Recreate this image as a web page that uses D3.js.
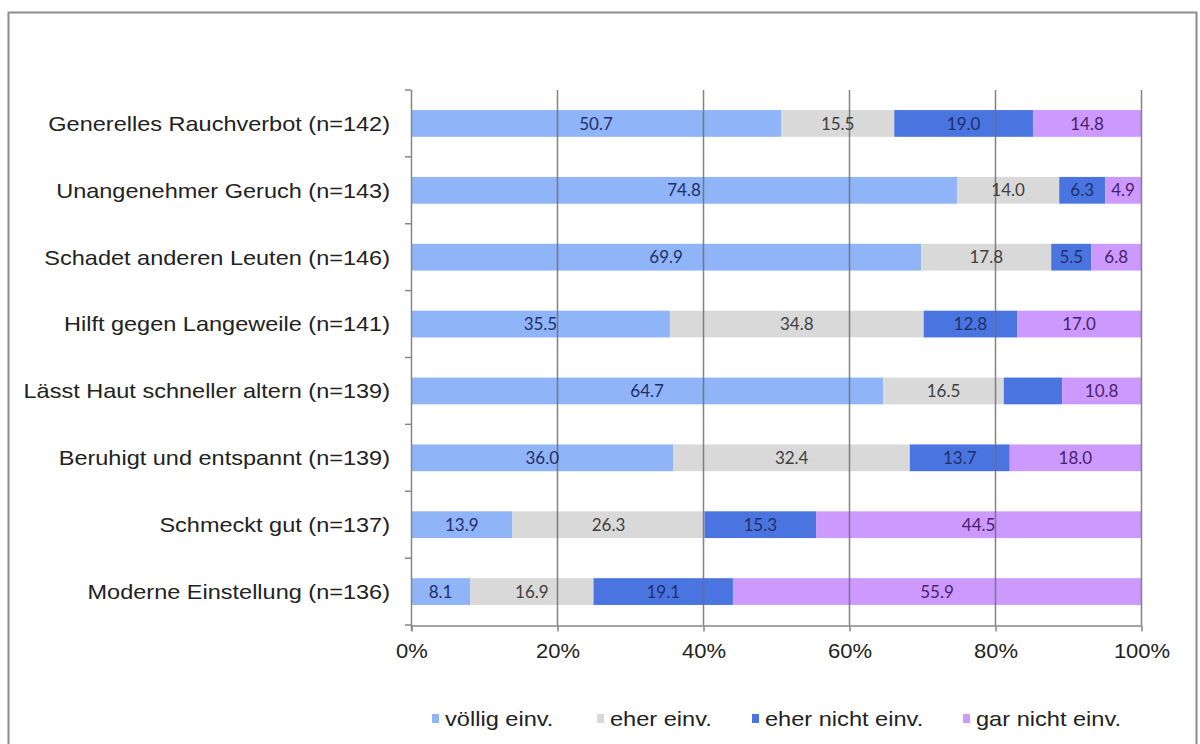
<!DOCTYPE html>
<html>
<head>
<meta charset="utf-8">
<script src="https://cdn.jsdelivr.net/npm/d3@7"></script>
<style>
  html, body { margin: 0; padding: 0; background: #fff; overflow: hidden; }
  svg { display: block; }
</style>
</head>
<body>
<svg id="chart" width="1200" height="744"></svg>
<script>
// Survey statements (top to bottom)
const categories = [
  "Generelles Rauchverbot (n=142)",
  "Unangenehmer Geruch (n=143)",
  "Schadet anderen Leuten (n=146)",
  "Hilft gegen Langeweile (n=141)",
  "Lässt Haut schneller altern (n=139)",
  "Beruhigt und entspannt (n=139)",
  "Schmeckt gut (n=137)",
  "Moderne Einstellung (n=136)"
];

// Answer levels (series)
const seriesNames = ["völlig einv.", "eher einv.", "eher nicht einv.", "gar nicht einv."];

// Percentages per answer level, one entry per statement
const voelligEinv     = [50.7, 74.8, 69.9, 35.5, 64.7, 36.0, 13.9,  8.1];
const eherEinv        = [15.5, 14.0, 17.8, 34.8, 16.5, 32.4, 26.3, 16.9];
const eherNichtEinv   = [19.0,  6.3,  5.5, 12.8,  8.0, 13.7, 15.3, 19.1];
const garNichtEinv    = [14.8,  4.9,  6.8, 17.0, 10.8, 18.0, 44.5, 55.9];

// Segments whose value is printed inside the bar (one cell has no label)
const showLabel = [
  [true, true, true, true],
  [true, true, true, true],
  [true, true, true, true],
  [true, true, true, true],
  [true, true, false, true],
  [true, true, true, true],
  [true, true, true, true],
  [true, true, true, true]
];

const xTicks = [0, 0.2, 0.4, 0.6, 0.8, 1.0];

const colors = ["#8fb4f8", "#d9d9d9", "#4a74e0", "#cc99ff"];
const labelColors = ["#1f2f6a", "#404040", "#1f2f6a", "#4a1f6a"];

// Build table for the stack layout
const seriesArrays = [voelligEinv, eherEinv, eherNichtEinv, garNichtEinv];
const table = categories.map((c, i) => {
  const row = { cat: c, idx: i };
  seriesNames.forEach((s, k) => row[s] = seriesArrays[k][i]);
  return row;
});

const stack = d3.stack()
  .keys(seriesNames)
  .offset(d3.stackOffsetExpand);
const stacked = stack(table);

const svg = d3.select("#chart");
const textFont = "'Liberation Sans', Arial, sans-serif";

// outer frame
svg.append("rect")
  .attr("x", 8.5).attr("y", 12.5)
  .attr("width", 1188).attr("height", 760)
  .attr("fill", "none")
  .attr("stroke", "#8c8c8c")
  .attr("stroke-width", 2);

const margin = { left: 411, right: 59, top: 90, bottom: 119 };
const W = 1200, H = 744;

const x = d3.scaleLinear()
  .domain([0, 1])
  .range([margin.left, W - margin.right]);

const y = d3.scaleBand()
  .domain(categories)
  .range([margin.top, H - margin.bottom])
  .paddingInner(0.6)
  .paddingOuter(0.3);

const band = y.step();
const plotTop = margin.top, plotBottom = H - margin.bottom;

// bars
const layers = svg.append("g").selectAll("g")
  .data(stacked)
  .join("g")
  .attr("fill", (d, k) => colors[k]);

layers.selectAll("rect")
  .data(d => d)
  .join("rect")
  .attr("x", d => x(d[0]))
  .attr("y", d => y(d.data.cat))
  .attr("width", d => x(d[1]) - x(d[0]))
  .attr("height", y.bandwidth());

// vertical gridlines (drawn over the bars)
svg.append("g")
  .selectAll("line")
  .data(xTicks.slice(1))
  .join("line")
  .attr("x1", d => x(d) + 0.5).attr("x2", d => x(d) + 0.5)
  .attr("y1", plotTop).attr("y2", plotBottom)
  .attr("stroke", "#6e6e6e")
  .attr("stroke-opacity", 0.85)
  .attr("stroke-width", 1.5);

// value labels
const labelG = svg.append("g")
  .attr("font-family", "Lato, 'Open Sans', sans-serif")
  .attr("font-size", 17);

stacked.forEach((layer, k) => {
  labelG.selectAll(null)
    .data(layer.filter(d => showLabel[d.data.idx][k]))
    .join("text")
    .attr("x", d => (x(d[0]) + x(d[1])) / 2)
    .attr("y", d => y(d.data.cat) + y.bandwidth() / 2)
    .attr("dy", "0.36em")
    .attr("text-anchor", "middle")
    .attr("fill", labelColors[k])
    .text(d => d.data[seriesNames[k]].toFixed(1));
});

// left axis: line and ticks at band boundaries
const yAxisG = svg.append("g");
yAxisG.append("line")
  .attr("x1", margin.left + 0.5).attr("x2", margin.left + 0.5)
  .attr("y1", plotTop).attr("y2", plotBottom + 6)
  .attr("stroke", "#868686").attr("stroke-width", 1.5);
const boundaries = d3.range(categories.length + 1).map(i => plotTop + i * band);
yAxisG.selectAll("line.tick")
  .data(boundaries)
  .join("line")
  .attr("class", "tick")
  .attr("x1", margin.left - 6).attr("x2", margin.left)
  .attr("y1", d => d).attr("y2", d => d)
  .attr("stroke", "#868686").attr("stroke-width", 1.5);

// category labels (slightly widened glyphs)
svg.append("g")
  .attr("font-family", textFont)
  .attr("font-size", 21)
  .attr("fill", "#222")
  .selectAll("text")
  .data(categories)
  .join("text")
  .attr("transform", d => `translate(${margin.left - 21},${y(d) + y.bandwidth() / 2}) scale(1.12,1)`)
  .attr("dy", "0.35em")
  .attr("text-anchor", "end")
  .text(d => d);

// bottom axis
const xAxis = d3.axisBottom(x)
  .tickValues(xTicks)
  .tickFormat(d3.format(".0%"))
  .tickSize(6)
  .tickSizeOuter(0)
  .tickPadding(12);

const xg = svg.append("g")
  .attr("transform", `translate(0.5,${plotBottom + 0.5})`)
  .call(xAxis);
xg.select(".domain").attr("stroke", "#868686").attr("stroke-width", 1.5);
xg.selectAll(".tick line").attr("stroke", "#868686").attr("stroke-width", 1.5);
xg.selectAll(".tick text")
  .attr("font-family", textFont)
  .attr("font-size", 20)
  .attr("fill", "#222")
  .attr("transform", "scale(1.1,1)")
  .attr("x", 0);

// legend
const legendTextX = [445, 610, 765, 976];
const legend = svg.append("g")
  .attr("font-family", textFont)
  .attr("font-size", 20)
  .attr("fill", "#222");
seriesNames.forEach((s, k) => {
  legend.append("rect")
    .attr("x", legendTextX[k] - 13).attr("y", 714)
    .attr("width", 7).attr("height", 9)
    .attr("fill", colors[k]);
  legend.append("text")
    .attr("transform", `translate(${legendTextX[k]},719) scale(1.18,1)`)
    .attr("dy", "0.35em")
    .text(s);
});
</script>
</body>
</html>
